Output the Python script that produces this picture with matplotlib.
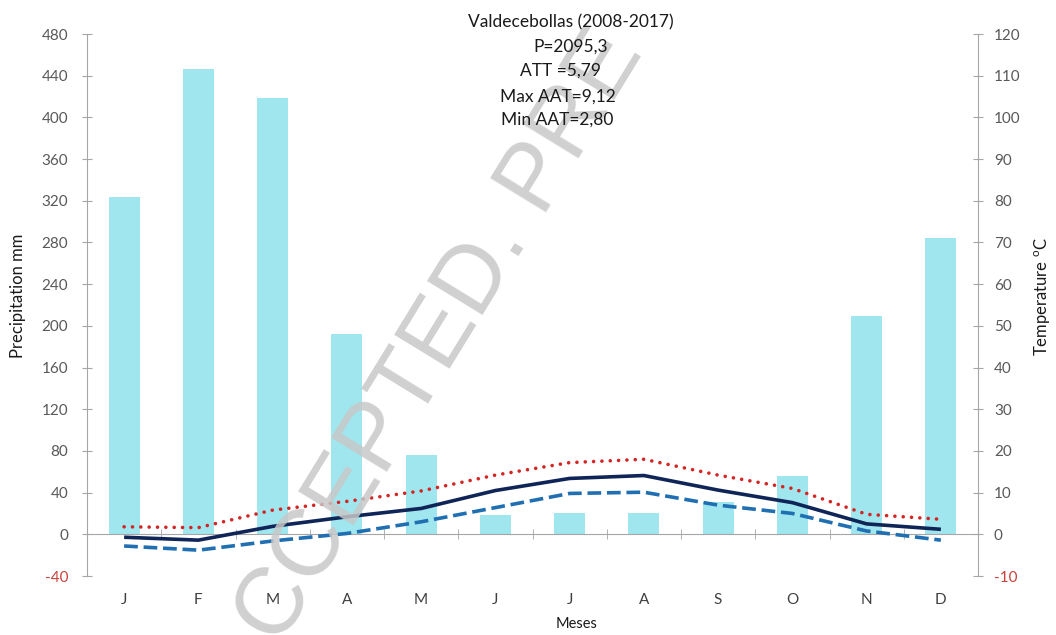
import matplotlib
matplotlib.use('Agg')
import matplotlib.pyplot as plt
from matplotlib.ticker import FixedLocator

# ---- data ----
months = ['J', 'F', 'M', 'A', 'M', 'J', 'J', 'A', 'S', 'O', 'N', 'D']
precip = [324, 446, 419, 192, 76, 19, 20, 20, 31, 56, 209, 284]
t_mean = [-0.7, -1.4, 1.9, 4.2, 6.2, 10.5, 13.4, 14.1, 10.6, 7.6, 2.5, 1.2]
t_max = [1.8, 1.6, 5.8, 7.9, 10.4, 14.2, 17.2, 18.0, 14.2, 11.0, 4.8, 3.6]
t_min = [-2.8, -3.8, -1.6, 0.2, 3.0, 6.4, 9.8, 10.1, 7.0, 5.0, 0.8, -1.4]
p_ticks = list(range(-40, 481, 40))
t_ticks = list(range(-10, 121, 10))
title_lines = ['Valdecebollas (2008-2017)', 'P=2095,3', 'ATT =5,79',
               'Max AAT=9,12', 'Min AAT=2,80']
title_x = [571, 571, 561, 558, 557]
title_y = [22, 47, 71, 97, 120]

plt.rcParams['font.family'] = ['Lato', 'DejaVu Sans']
plt.rcParams['mathtext.fontset'] = 'custom'
plt.rcParams['mathtext.rm'] = 'Lato'

W, H = 1056, 635
fig = plt.figure(figsize=(W / 100, H / 100), dpi=100)
ax = fig.add_axes([87 / W, 59 / H, 891 / W, 542 / H])

x = list(range(len(months)))
ax.bar(x, precip, width=0.42, color='#a0e6ee', zorder=2)
ax.set_xlim(-0.5, 11.5)
ax.set_ylim(-40, 480)

gray = '#a6a6a6'
for s in ['top', 'right']:
    ax.spines[s].set_visible(False)
ax.spines['left'].set_color(gray)
ax.spines['bottom'].set_color(gray)
ax.spines['bottom'].set_position(('data', 0))

ax.set_yticks(p_ticks)
ax.set_yticklabels([str(v) for v in p_ticks])
ax.tick_params(axis='y', direction='inout', length=7, color=gray,
               labelcolor='#595959', labelsize=11, pad=10)
for lab, v in zip(ax.get_yticklabels(), p_ticks):
    if v < 0:
        lab.set_color('#c8423a')

ax.set_xticks(x)
ax.set_xticklabels(months)
ax.tick_params(axis='x', which='major', length=0, pad=42,
               labelsize=11, labelcolor='#404040')
ax.xaxis.set_minor_locator(FixedLocator([i + 0.5 for i in x[:-1]]))
ax.tick_params(axis='x', which='minor', direction='inout', length=7,
               color=gray)

ax2 = ax.twinx()
ax2.set_ylim(-10, 120)
for s in ['top', 'left', 'bottom']:
    ax2.spines[s].set_visible(False)
ax2.spines['right'].set_color(gray)
ax2.set_yticks(t_ticks)
ax2.set_yticklabels([str(v) for v in t_ticks])
ax2.tick_params(axis='y', direction='inout', length=7, color=gray,
                labelcolor='#595959', labelsize=11, pad=8)
for lab, v in zip(ax2.get_yticklabels(), t_ticks):
    if v < 0:
        lab.set_color('#c8423a')

ax2.plot(x, t_max, color='#d42424', lw=2.6, linestyle=(0, (0.01, 2.3)),
         dash_capstyle='round', zorder=3)
ax2.plot(x, t_mean, color='#0f2557', lw=2.6, zorder=4,
         solid_capstyle='butt')
ax2.plot(x, t_min, color='#1f6fb2', lw=2.6, linestyle=(0, (3.8, 1.6)),
         zorder=3)

# axis titles
fig.text(18 / W, 1 - 296 / H, 'Precipitation mm', rotation=90,
         ha='center', va='center', fontsize=12, color='#1a1a1a', zorder=5)
fig.text(1043 / W, 1 - 297 / H, 'Temperature $^{\\mathrm{o}}$C', rotation=90,
         ha='center', va='center', fontsize=12, color='#1a1a1a', zorder=5)
fig.text(577 / W, 1 - 624 / H, 'Meses', ha='center', va='center',
         fontsize=10.5, color='#1a1a1a', zorder=5)

for t, tx, ty in zip(title_lines, title_x, title_y):
    fig.text(tx / W, 1 - ty / H, t, ha='center', va='center',
             fontsize=12.5, color='#1a1a1a', zorder=5)

# watermark (behind the title block, above the plot)
fig.text(246 / W, 1 - 701 / H, 'ACCEPTED. PRE', rotation=58.5,
         rotation_mode='anchor', ha='left', va='baseline',
         fontsize=68, family='Liberation Sans', color='#c8c8c8',
         alpha=0.85, zorder=2.5)

fig.savefig('out.png', dpi=100)
